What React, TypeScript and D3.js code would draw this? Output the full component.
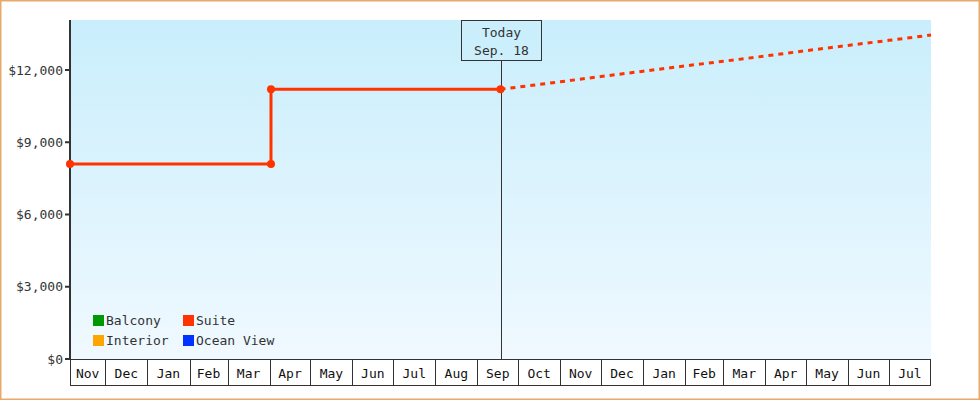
import React from "react";
import * as d3 from "d3";

const startDate = new Date(2021, 10, 5);
const endDate = new Date(2023, 7, 1);
const todayDate = new Date(2022, 8, 18);
const todayLabel = ["Today", "Sep. 18"];

const suiteDates = [new Date(2021, 10, 5), new Date(2022, 3, 2), new Date(2022, 3, 2), new Date(2022, 8, 18)];
const suiteValues = [8100, 8100, 11200, 11200];
const suiteMarkers = [true, true, true, true];

const projDates = [
  new Date(2022, 8, 18), new Date(2022, 9, 1), new Date(2022, 10, 1), new Date(2022, 11, 1),
  new Date(2023, 0, 1), new Date(2023, 1, 1), new Date(2023, 2, 1), new Date(2023, 3, 1),
  new Date(2023, 4, 1), new Date(2023, 5, 1), new Date(2023, 6, 1), new Date(2023, 7, 1),
];
const projValues = [11200, 11290, 11510, 11730, 11950, 12170, 12360, 12580, 12800, 13020, 13230, 13450];

const yTicks = [0, 3000, 6000, 9000, 12000];
const legendNames = ["Balcony", "Suite", "Interior", "Ocean View"];
const legendColors = ["#009900", "#ff3300", "#ffa500", "#0033ff"];

const W = 980, H = 400;
const M = { left: 71, right: 931, top: 20, bottom: 359 };
const FONT = "'DejaVu Sans Mono', monospace";

export default function App() {
  const x = d3.scaleTime().domain([startDate, endDate]).range([70, M.right]);
  const y = d3.scaleLinear().domain([0, 14075]).range([M.bottom, M.top]);

  const monthStarts = d3.timeMonth.range(d3.timeMonth.floor(startDate), endDate);
  const cells = monthStarts.map((m) => {
    const s = m < startDate ? startDate : m;
    const e = d3.timeMonth.offset(m, 1);
    return { x0: x(s), x1: x(e > endDate ? endDate : e), label: d3.timeFormat("%b")(m) };
  });

  const line = d3.line<[Date, number]>().x((d) => x(d[0])).y((d) => y(d[1]));
  const suite: [Date, number][] = suiteDates.map((d, i) => [d, suiteValues[i]]);
  const proj: [Date, number][] = projDates.map((d, i) => [d, projValues[i]]);
  const fmt = d3.format("$,");
  const tx = x(todayDate);

  return (
    <svg width={W} height={H} style={{ position: "absolute", left: 0, top: 0, fontFamily: FONT }}>
      <defs>
        <linearGradient id="bg" x1="0" y1="0" x2="0" y2="1">
          <stop offset="0" stopColor="#c9eefc" />
          <stop offset="1" stopColor="#f0f9ff" />
        </linearGradient>
      </defs>
      <rect x={0.75} y={0.75} width={W - 1.5} height={H - 1.5} fill="#fff" stroke="#e8a96a" strokeWidth={1.5} />
      <rect x={M.left} y={M.top} width={M.right - M.left} height={M.bottom - M.top} fill="url(#bg)" />

      {/* y axis */}
      <line x1={70} x2={70} y1={M.top} y2={360} stroke="#333" strokeWidth={2} />
      {yTicks.map((t) => (
        <g key={t}>
          <line x1={65} x2={70} y1={y(t)} y2={y(t)} stroke="#333" strokeWidth={2} />
          <text x={63} y={y(t)} dy="0.35em" textAnchor="end" fontSize={13} fill="#333">{fmt(t)}</text>
        </g>
      ))}

      {/* x axis cells */}
      <line x1={70} x2={M.right} y1={359.5} y2={359.5} stroke="#333" strokeWidth={1} />
      <line x1={70} x2={M.right} y1={385.5} y2={385.5} stroke="#333" strokeWidth={1} />
      {cells.map((c, i) => (
        <g key={i}>
          <line x1={Math.round(c.x0) + 0.5} x2={Math.round(c.x0) + 0.5} y1={359} y2={386} stroke="#333" strokeWidth={1} />
          <text x={(c.x0 + c.x1) / 2} y={378} textAnchor="middle" fontSize={13} fill="#111">{c.label}</text>
        </g>
      ))}
      <line x1={M.right - 0.5} x2={M.right - 0.5} y1={359} y2={386} stroke="#333" strokeWidth={1} />

      {/* today */}
      <line x1={Math.round(tx) + 0.5} x2={Math.round(tx) + 0.5} y1={60} y2={359} stroke="#333" strokeWidth={1} />
      <rect x={Math.round(tx) - 39.5} y={20.5} width={80} height={40} fill="none" stroke="#333" strokeWidth={1} />
      <text x={tx + 1} y={37} textAnchor="middle" fontSize={13} fill="#333">{todayLabel[0]}</text>
      <text x={tx + 1} y={55} textAnchor="middle" fontSize={13} fill="#333">{todayLabel[1]}</text>

      {/* series */}
      <path d={line(proj) || ""} fill="none" stroke="#ff3300" strokeWidth={3} strokeDasharray="5,5" />
      <path d={line(suite) || ""} fill="none" stroke="#ff3300" strokeWidth={3} />
      {suite.map((d, i) =>
        suiteMarkers[i] ? <circle key={i} cx={x(d[0])} cy={y(d[1])} r={4} fill="#ff3300" /> : null
      )}

      {/* legend */}
      {legendNames.map((n, i) => {
        const col = i % 2, row = Math.floor(i / 2);
        const lx = 93 + col * 90, ly = 315 + row * 20;
        return (
          <g key={n}>
            <rect x={lx} y={ly} width={11} height={11} fill={legendColors[i]} />
            <text x={lx + 13} y={ly + 10} fontSize={13} fill="#333">{n}</text>
          </g>
        );
      })}
    </svg>
  );
}
